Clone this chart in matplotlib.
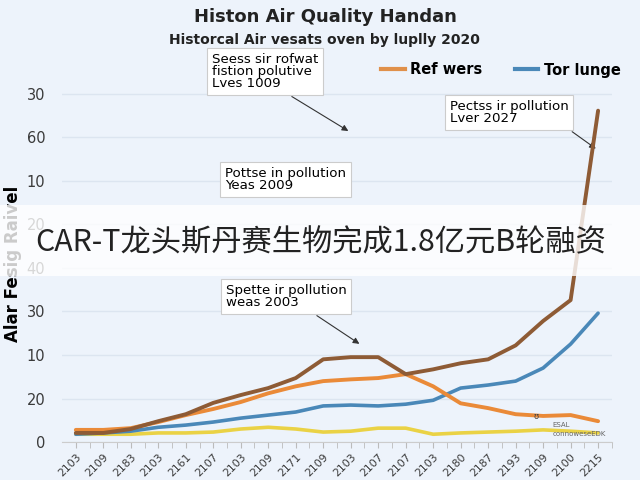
import numpy as np
import matplotlib
matplotlib.use("Agg")
import matplotlib.pyplot as plt
from matplotlib.lines import Line2D
from matplotlib.patches import Rectangle

# values (axis units: one gridline step = 10)
years = ["2103", "2109", "2183", "2103", "2161", "2107", "2103", "2109", "2171", "2109",
         "2103", "2107", "2107", "2103", "2180", "2187", "2193", "2109", "2100", "2215"]
ytick_labels = ["0", "20", "10", "30", "40", "20", "10", "60", "30"]

brown = [2.1, 2.1, 3.0, 4.8, 6.4, 9.0, 10.8, 12.4, 14.7, 19.0,
         19.5, 19.5, 15.6, 16.7, 18.1, 19.0, 22.2, 27.8, 32.6, 76.1]
orange = [2.8, 2.8, 3.2, 4.6, 6.2, 7.6, 9.2, 11.2, 12.8, 14.0,
          14.4, 14.7, 15.6, 12.8, 8.9, 7.8, 6.4, 6.0, 6.2, 4.8]
blue = [1.8, 2.1, 2.5, 3.4, 3.9, 4.6, 5.5, 6.2, 6.9, 8.3,
        8.5, 8.3, 8.7, 9.6, 12.4, 13.1, 14.0, 17.0, 22.5, 29.6]
yellow = [1.8, 1.8, 1.8, 2.1, 2.1, 2.3, 3.0, 3.4, 3.0, 2.3,
          2.5, 3.2, 3.2, 1.8, 2.1, 2.3, 2.5, 2.8, 2.5, 2.1]

bg = "#edf3fb"
fig = plt.figure(figsize=(6.4, 4.8), dpi=100, facecolor=bg)
ax = fig.add_axes([0.097, 0.079, 0.859, 0.744], facecolor=bg)

def fp(x, y):
    # pixel position on the 640x480 canvas -> figure fraction
    return (x / 640, 1 - y / 480)

x = np.arange(len(years))
ax.plot(x, yellow, color="#ead245", lw=2.6, solid_capstyle="round", zorder=3)
ax.plot(x, blue, color="#4a88b8", lw=2.6, solid_capstyle="round", zorder=4)
ax.plot(x, orange, color="#ea8a38", lw=2.8, solid_capstyle="round", zorder=5)
ax.plot(x, brown, color="#8e5b35", lw=2.8, solid_capstyle="round", zorder=6)

ax.set_xlim(-0.5, 19.25)
ax.set_ylim(0, 82)
ax.set_yticks(np.arange(0, 81, 10))
ax.set_yticklabels(ytick_labels, fontsize=10.5, color="#3a3a3a")
ax.set_xticks(x)
ax.set_xticklabels(years, rotation=45, ha="right", rotation_mode="anchor",
                   fontsize=7.8, color="#3a3a3a")
ax.set_xticks(x + 0.5, minor=True)
ax.tick_params(axis="y", length=0, pad=12)
ax.tick_params(axis="x", which="both", length=4, color="#bbbbbb", pad=3)
ax.grid(axis="y", color="#dce5f0", lw=1)
ax.set_axisbelow(True)
for s in ["top", "right", "left"]:
    ax.spines[s].set_visible(False)
ax.spines["bottom"].set_color("#cccccc")

ax.set_ylabel("Alar Fesig Raivel", fontsize=12, fontweight="bold", labelpad=3)

fig.text(*fp(325, 17), "Histon Air Quality Handan", ha="center", va="center",
         fontsize=13, fontweight="bold", color="#222222")
fig.text(*fp(324, 40), "Historcal Air vesats oven by luplly 2020", ha="center",
         va="center", fontsize=10, fontweight="semibold", color="#222222")

handles = [Line2D([], [], color="#e0904a", lw=3), Line2D([], [], color="#4a88b8", lw=3)]
fig.legend(handles, ["Ref wers", "Tor lunge"], loc="center", ncol=2,
           bbox_to_anchor=fp(501, 70), frameon=False,
           prop={"weight": "bold", "size": 10.5}, handlelength=1.6,
           handletextpad=0.4, columnspacing=2.2)

box = dict(boxstyle="square,pad=0.35", fc="white", ec="#cccccc", lw=0.8)
arrow = dict(arrowstyle="-|>", color="#333333", lw=0.8, mutation_scale=9)
fs = 9.6
ls = 0.9

ax.annotate("Seess sir rofwat\nfistion polutive\nLves 1009", xy=(10.0, 71.1),
            xytext=fp(212, 53), textcoords="figure fraction", ha="left", va="top",
            fontsize=fs, bbox=box, linespacing=ls, annotation_clip=False,
            arrowprops=dict(arrow, relpos=(0.65, 0)))
ax.annotate("Pectss ir pollution\nLver 2027", xy=(19.0, 67),
            xytext=fp(450, 100), textcoords="figure fraction", ha="left", va="top",
            fontsize=fs, bbox=box, linespacing=ls, annotation_clip=False,
            arrowprops=dict(arrow, relpos=(0.95, 0)))
ax.annotate("Pottse in pollution\nYeas 2009", xy=fp(225, 167), xycoords="figure fraction",
            ha="left", va="top", fontsize=fs, bbox=box, linespacing=ls)
ax.annotate("Spette ir pollution\nweas 2003", xy=(10.4, 22.2),
            xytext=fp(226, 284), textcoords="figure fraction", ha="left", va="top",
            fontsize=fs, bbox=box, linespacing=ls, annotation_clip=False,
            arrowprops=dict(arrow, relpos=(0.67, 0)))
ax.text(16.65, 5.4, "ʊ", fontsize=6, color="#444444", zorder=7)
ax.text(17.35, 3.5, "ESAL", fontsize=5, color="#666666", zorder=7)
ax.text(17.35, 1.3, "connoweseEDK", fontsize=5, color="#666666", zorder=7)

# translucent banner with headline
fig.patches.append(Rectangle(fp(0, 276), 1, 71 / 480, transform=fig.transFigure,
                             fc="white", alpha=0.8, ec="none", zorder=10))
fig.text(*fp(35, 243), "CAR-T龙头斯丹赛生物完成1.8亿元B轮融资", ha="left", va="center",
         fontsize=21.8, color="#222222", zorder=11,
         family=["Noto Sans CJK SC", "DejaVu Sans"])

fig.savefig("out.png", dpi=100, facecolor=bg)
